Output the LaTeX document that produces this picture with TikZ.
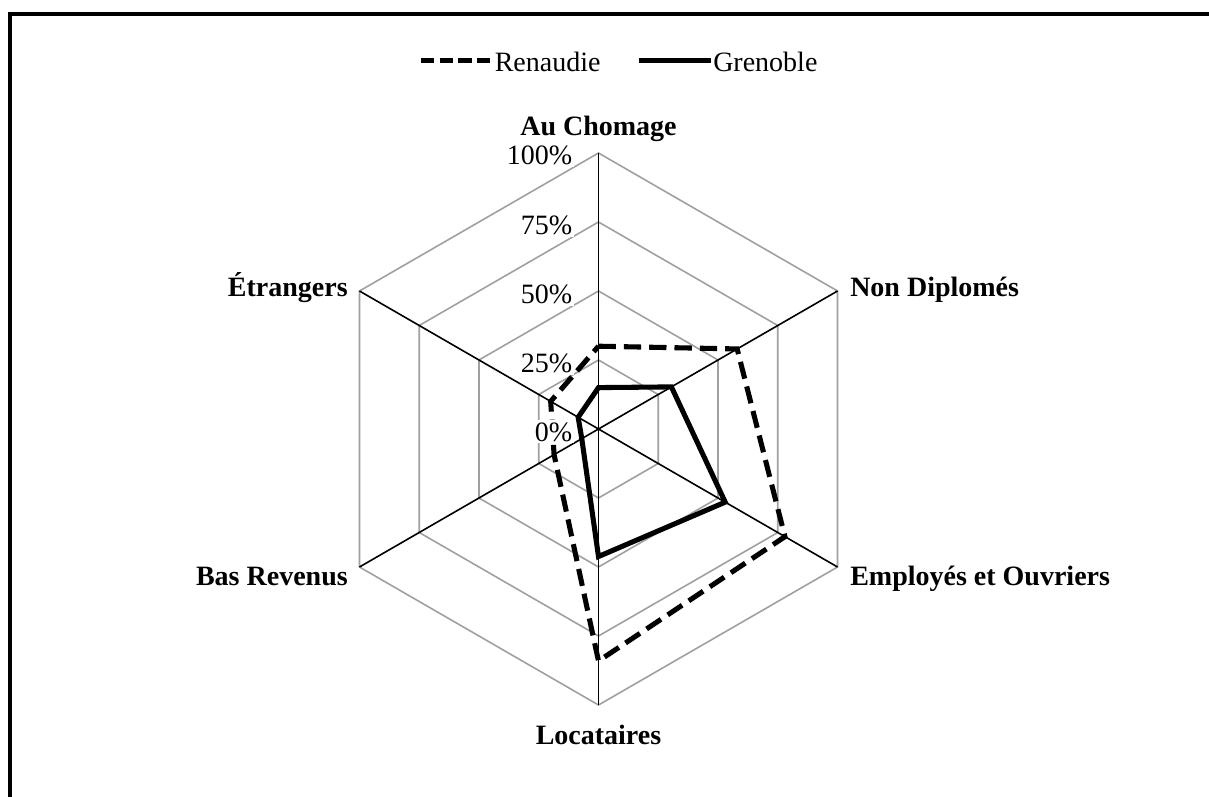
\documentclass[tikz,border=0pt]{standalone}
\usepackage{fontspec}
\setmainfont{Liberation Serif}
\begin{document}
\begin{tikzpicture}[x=0.75pt,y=0.75pt,
  grid/.style={draw={rgb,255:red,160;green,160;blue,160}, line width=1.2pt},
  axisline/.style={draw=black, line width=1.2pt},
  renaudie/.style={draw=black, line width=3.8pt, dash pattern=on 13pt off 6pt, line join=miter},
  grenoble/.style={draw=black, line width=3.8pt, line join=miter},
  cat/.style={font=\fontsize{21}{24}\selectfont\bfseries, inner sep=0pt},
  tick/.style={font=\fontsize{21}{24}\selectfont, inner sep=1.5pt, fill=white},
  leg/.style={font=\fontsize{21}{24}\selectfont, inner sep=0pt}]
\useasboundingbox (-598.5,-367) rectangle (610.5,429);
\clip (-598.5,-367) rectangle (610.5,429);
% frame
\draw[line width=3.6pt] (-588.5,-500) -- (-588.5,415) -- (700,415);
% grid
\foreach \r in {69,138,207,276}
  \draw[grid] (90:\r) -- (30:\r) -- (-30:\r) -- (-90:\r) -- (-150:\r) -- (150:\r) -- cycle;
\coordinate (O) at (0,0);
\coordinate (aC) at (90:276);
\coordinate (aN) at (30:276);
\coordinate (aE) at (-30:276);
\coordinate (aL) at (-90:276);
\coordinate (aB) at (-150:276);
\coordinate (aT) at (150:276);
\foreach \p in {aC,aN,aE,aL,aB,aT}
  \draw[axisline] (O) -- (\p);
% data
\draw[renaudie] (90:82.8) -- (30:160.1) -- (-30:215.3) -- (-90:232) -- (-150:51.3) -- (150:55.2) -- cycle;
\draw[grenoble] (90:41.4) -- (30:84.2) -- (-30:146.3) -- (-90:127.5) -- (-150:19.3) -- (150:23.5) -- cycle;
% tick labels
\node[tick, anchor=base east] (t100) at (-24,264) {100\%};
\node[tick, anchor=base east] (t75) at (-24,194) {75\%};
\node[tick, anchor=base east] (t50) at (-24,125) {50\%};
\node[tick, anchor=base east] (t25) at (-24,56) {25\%};
\node[tick, anchor=base east] (t0) at (-24,-12) {0\%};
% category labels
\node[cat, anchor=base] (lC) at (0,293) {Au Chomage};
\node[cat, anchor=base west] (lN) at (251.5,132) {Non Diplomés};
\node[cat, anchor=base west] (lE) at (251.5,-156) {Employés et Ouvriers};
\node[cat, anchor=base east] (lT) at (-250.5,132) {Étrangers};
\node[cat, anchor=base east] (lB) at (-250.5,-156) {Bas Revenus};
\node[cat, anchor=base] (lL) at (0,-315) {Locataires};
% legend
\coordinate (r1) at (-177.5,368.5);
\coordinate (r2) at (-106.5,368.5);
\coordinate (g1) at (40.5,368.5);
\coordinate (g2) at (112.5,368.5);
\draw[renaudie, dash pattern=on 10pt off 4pt] (r1) -- (r2);
\draw[grenoble] (g1) -- (g2);
\node[leg, anchor=base west] (lr) at (-104,357) {Renaudie};
\node[leg, anchor=base west] (lg) at (114.5,357) {Grenoble};
\end{tikzpicture}
\end{document}
